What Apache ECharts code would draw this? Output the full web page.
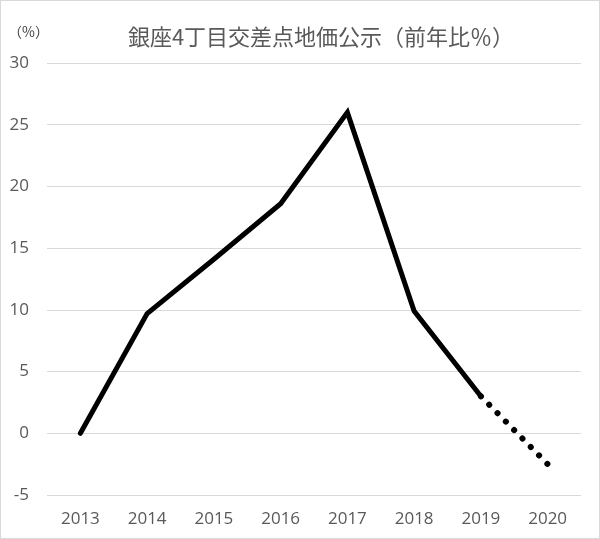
<!DOCTYPE html>
<html>
<head>
<meta charset="utf-8">
<script src="https://cdn.jsdelivr.net/npm/echarts@6/dist/echarts.min.js"></script>
<style>
    html, body { margin: 0; padding: 0; background: #fff; }
    #chart { width: 598px; height: 537px; border: 1px solid #d9d9d9; }
</style>
</head>
<body>
<div id="chart"></div>
<script>
    // 銀座4丁目交差点 地価公示 前年比
    var years = ['2013', '2014', '2015', '2016', '2017', '2018', '2019', '2020'];
    var actual = [0, 9.7, 14.1, 18.6, 26.0, 9.9, 3.0, null];
    var forecast = [null, null, null, null, null, null, 3.0, -2.5];
    var yTicks = { min: -5, max: 30, step: 5 };

    var chart = echarts.init(document.getElementById('chart'));
    var option = {
        animation: false,
        title: {
            text: '銀座4丁目交差点地価公示（前年比％）',
            left: 315,
            textAlign: 'center',
            top: 20,
            textStyle: {
                fontFamily: '"Noto Sans CJK JP"',
                fontSize: 22,
                fontWeight: 'normal',
                color: '#595959'
            }
        },
        grid: { left: 46, right: 18, top: 62, bottom: 43 },
        xAxis: {
            type: 'category',
            data: years,
            axisLine: { show: false },
            axisTick: { show: false },
            axisLabel: {
                color: '#595959',
                fontSize: 17,
                fontFamily: '"Open Sans"',
                margin: 16
            }
        },
        yAxis: {
            type: 'value',
            min: yTicks.min,
            max: yTicks.max,
            interval: yTicks.step,
            name: '（%）',
            nameLocation: 'end',
            nameGap: 24,
            nameTextStyle: {
                color: '#404040',
                fontSize: 14,
                fontFamily: '"Noto Sans CJK JP"',
                align: 'right',
                padding: [0, -2, 0, 0]
            },
            axisLine: { show: false },
            axisTick: { show: false },
            axisLabel: {
                color: '#595959',
                fontSize: 17,
                fontFamily: '"Open Sans"',
                margin: 18
            },
            splitLine: { lineStyle: { color: '#d9d9d9', width: 1 } }
        },
        series: [
            {
                type: 'line',
                data: actual,
                symbol: 'none',
                connectNulls: false,
                lineStyle: { color: '#000', width: 5, join: 'miter', cap: 'round' }
            },
            {
                type: 'line',
                data: forecast,
                symbol: 'none',
                lineStyle: { color: '#000', width: 6, type: [0.1, 11.75], cap: 'round', dashOffset: 0 }
            }
        ]
    };
    chart.setOption(option);
</script>
</body>
</html>
